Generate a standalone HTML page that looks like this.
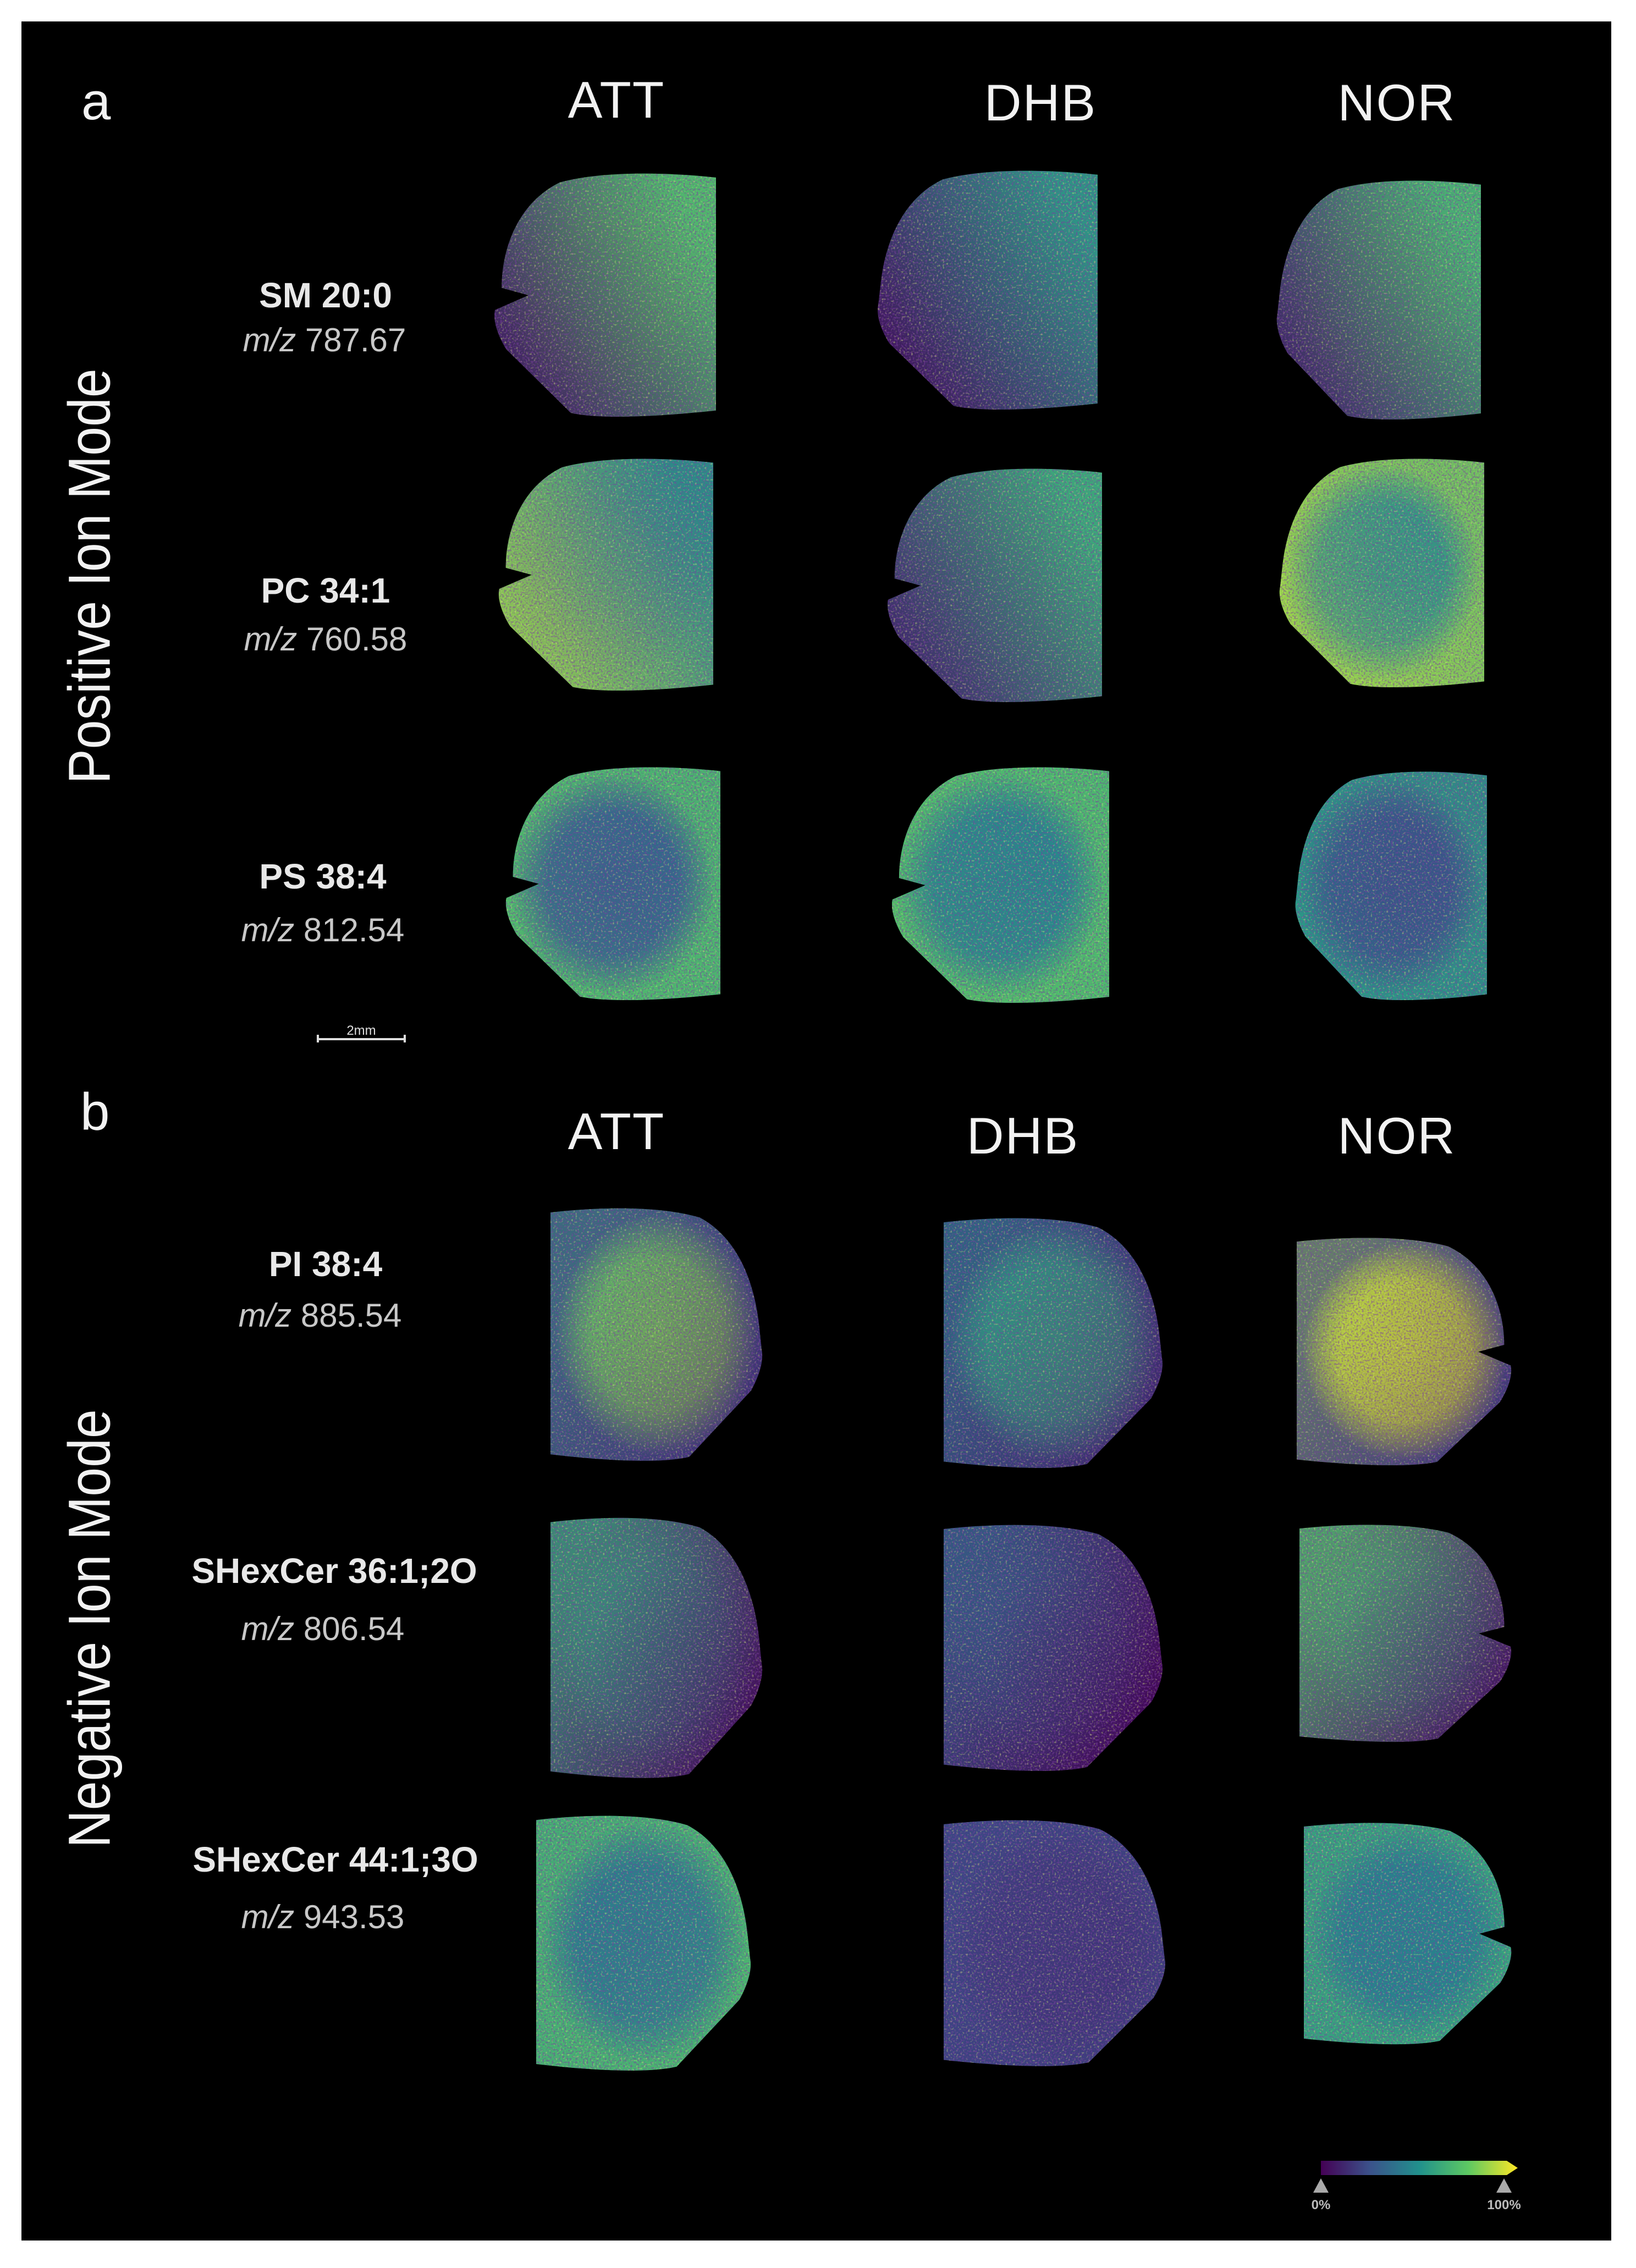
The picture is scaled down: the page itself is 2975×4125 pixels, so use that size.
<!DOCTYPE html>
<html><head><meta charset="utf-8">
<style>
html,body{margin:0;padding:0;background:#fff;}
#root{position:relative;width:2975px;height:4125px;background:#fff;overflow:hidden;font-family:"Liberation Sans",sans-serif;}
#panel{position:absolute;left:39px;top:39px;width:2891px;height:4036px;background:#000;}
.t{position:absolute;color:#f2f2f2;white-space:nowrap;}
.hdr{font-size:94px;transform:translateX(-50%);letter-spacing:2px;}
.lab{font-size:64px;font-weight:bold;transform:translateX(-50%);color:#e8e8e8;}
.mz{font-size:60px;transform:translateX(-50%);color:#c8c8c8;}
.vert{font-size:108px;transform-origin:center;color:#f2f2f2;}
</style></head>
<body>
<div id="root">
<div id="panel"></div>
<div class="t" style="left:148px;top:130px;font-size:96px;">a</div>
<div class="t" style="left:146px;top:1968px;font-size:96px;">b</div>

<div class="t hdr" style="left:1121px;top:128px;">ATT</div>
<div class="t hdr" style="left:1892px;top:133px;">DHB</div>
<div class="t hdr" style="left:2540px;top:133px;">NOR</div>
<div class="t hdr" style="left:1121px;top:2004px;">ATT</div>
<div class="t hdr" style="left:1860px;top:2012px;">DHB</div>
<div class="t hdr" style="left:2540px;top:2012px;">NOR</div>

<div class="t vert" style="left:162px;top:1048px;transform:translate(-50%,-50%) rotate(-90deg) scaleX(0.88);">Positive Ion Mode</div>
<div class="t vert" style="left:162px;top:2962px;transform:translate(-50%,-50%) rotate(-90deg) scaleX(0.88);">Negative Ion Mode</div>

<div class="t lab" style="left:592px;top:500px;">SM 20:0</div>
<div class="t mz" style="left:590px;top:584px;"><i>m/z</i> 787.67</div>
<div class="t lab" style="left:592px;top:1037px;">PC 34:1</div>
<div class="t mz" style="left:592px;top:1128px;"><i>m/z</i> 760.58</div>
<div class="t lab" style="left:587px;top:1557px;">PS 38:4</div>
<div class="t mz" style="left:587px;top:1657px;"><i>m/z</i> 812.54</div>
<div class="t lab" style="left:592px;top:2262px;">PI 38:4</div>
<div class="t mz" style="left:582px;top:2358px;"><i>m/z</i> 885.54</div>
<div class="t lab" style="left:608px;top:2820px;">SHexCer 36:1;2O</div>
<div class="t mz" style="left:587px;top:2928px;"><i>m/z</i> 806.54</div>
<div class="t lab" style="left:610px;top:3345px;">SHexCer 44:1;3O</div>
<div class="t mz" style="left:587px;top:3452px;"><i>m/z</i> 943.53</div>

<svg id="art" width="2975" height="4125" style="position:absolute;left:0;top:0;">
<defs>
<linearGradient id="cbar" x1="0" x2="1" y1="0" y2="0">
<stop offset="0" stop-color="#440154"/><stop offset="0.25" stop-color="#3b528b"/><stop offset="0.5" stop-color="#21918c"/><stop offset="0.75" stop-color="#5ec962"/><stop offset="1" stop-color="#fde725"/>
</linearGradient>
<filter id="speck" x="0" y="0" width="1" height="1">
<feTurbulence type="fractalNoise" baseFrequency="0.3" numOctaves="1" seed="3" result="n"/>
<feColorMatrix in="n" type="matrix" values="0 0 0 0 0.2  0 0 0 0 0.05  0 0 0 0 0.35  0 0 0 -5 2.6"/>
</filter>
<filter id="speck2" x="0" y="0" width="1" height="1">
<feTurbulence type="fractalNoise" baseFrequency="0.28" numOctaves="1" seed="11" result="n"/>
<feColorMatrix in="n" type="matrix" values="0 0 0 0 0.7  0 0 0 0 0.85  0 0 0 0 0.2  0 0 0 5 -2.9"/>
</filter>
</defs>
<g>
<line x1="578" y1="1890" x2="736" y2="1890" stroke="#ddd" stroke-width="4"/>
<line x1="578" y1="1882" x2="578" y2="1896" stroke="#ddd" stroke-width="4"/>
<line x1="736" y1="1882" x2="736" y2="1896" stroke="#ddd" stroke-width="4"/>
<text x="657" y="1882" fill="#ddd" font-size="24" text-anchor="middle" font-family="Liberation Sans, sans-serif">2mm</text>
</g>
<g>
<path d="M2402,3930 L2740,3930 L2760,3943 L2740,3956 L2402,3956 Z" fill="url(#cbar)"/>
<path d="M2402,3962 L2388,3988 L2416,3988 Z" fill="#aaa"/>
<path d="M2735,3962 L2721,3988 L2749,3988 Z" fill="#aaa"/>
<text x="2402" y="4018" fill="#bbb" font-size="24" font-weight="bold" text-anchor="middle" font-family="Liberation Sans, sans-serif">0%</text>
<text x="2735" y="4018" fill="#bbb" font-size="24" font-weight="bold" text-anchor="middle" font-family="Liberation Sans, sans-serif">100%</text>
</g>
<g id="brains"></g>
</svg>
</div>
<script>
var ions = ["SM 20:0","PC 34:1","PS 38:4","PI 38:4","SHexCer 36:1;2O","SHexCer 44:1;3O"];
var matrices = ["ATT","DHB","NOR"];
// viridis levels (0..1): low side (outer/bottom edge), high side (inner/top), radial centre, radial rim, radial strength
var lowSide     = [[0.02,0.0,0.05],[0.9,0.08,0.85],[0.6,0.6,0.5],[0.05,0.08,0.1],[0.02,0.0,0.03],[0.6,0.15,0.5]];
var highSide    = [[0.72,0.55,0.68],[0.42,0.62,0.55],[0.45,0.5,0.3],[0.6,0.5,0.85],[0.6,0.35,0.7],[0.45,0.2,0.45]];
var centerLevel = [[0.6,0.45,0.6],[0.42,0.5,0.45],[0.25,0.42,0.22],[0.82,0.62,0.95],[0.35,0.15,0.4],[0.38,0.15,0.42]];
var edgeLevel   = [[0.4,0.3,0.4],[0.6,0.4,0.85],[0.72,0.75,0.55],[0.2,0.15,0.2],[0.05,0.02,0.1],[0.7,0.25,0.62]];
var radialStrength = [[0.15,0.15,0.15],[0.3,0.1,0.6],[0.75,0.7,0.7],[0.6,0.5,0.6],[0.2,0.2,0.2],[0.7,0.3,0.7]];
var boxes = [
 [[896,314,1302,760],[1593,309,1996,747],[2319,327,2693,765]],
 [[904,833,1297,1258],[1611,851,2004,1279],[2324,833,2699,1252]],
 [[917,1394,1310,1821],[1619,1394,2017,1826],[2353,1402,2704,1821]],
 [[1001,2196,1389,2659],[1716,2214,2117,2672],[2358,2250,2751,2667]],
 [[1001,2759,1389,3236],[1716,2772,2117,3223],[2363,2772,2751,3170]],
 [[975,3301,1368,3768],[1716,3309,2122,3760],[2371,3314,2751,3720]]
];
var notch = [[1,0,0],[1,1,0],[1,1,0],[0,0,1],[0,0,1],[0,0,1]];
function viridis(t){
  var c=[[68,1,84],[59,82,139],[33,145,140],[94,201,98],[253,231,37]];
  t=Math.max(0,Math.min(1,t))*4;var i=Math.min(3,Math.floor(t)),f=t-i;
  var a=c[i],b=c[i+1];
  return 'rgb('+Math.round(a[0]+(b[0]-a[0])*f)+','+Math.round(a[1]+(b[1]-a[1])*f)+','+Math.round(a[2]+(b[2]-a[2])*f)+')';
}
function shapePath(x0,y0,x1,y1,mirror,hasNotch){
  var w=x1-x0,h=y1-y0;
  var P=function(u,v){ if(mirror)u=1-u; return (x0+u*w).toFixed(1)+','+(y0+v*h).toFixed(1); };
  var d='M'+P(0.3,0.04)+' C'+P(0.5,-0.01)+' '+P(0.8,0)+' '+P(1,0.02)+' L'+P(1,0.97)+' C'+P(0.8,0.99)+' '+P(0.5,1.01)+' '+P(0.35,0.98)+' L'+P(0.06,0.72)+' C'+P(0.02,0.66)+' '+P(0.0,0.6)+' '+P(0.01,0.56);
  if(hasNotch){ d+=' L'+P(0.16,0.5)+' L'+P(0.04,0.47); } else { d+=' L'+P(0.02,0.48); }
  d+=' C'+P(0.04,0.3)+' '+P(0.12,0.12)+' '+P(0.3,0.04)+' Z';
  return d;
}
var g=document.getElementById('brains');
var NS='http://www.w3.org/2000/svg';
var defs=document.querySelector('#art defs');
for(var r=0;r<6;r++){for(var m=0;m<3;m++){
  var b=boxes[r][m],mir=r>=3,id='b'+r+'_'+m;
  var grp=document.createElementNS(NS,'g');
  
  
  var cp=document.createElementNS(NS,'clipPath');cp.setAttribute('id','c'+id);
  var p=document.createElementNS(NS,'path');p.setAttribute('d',shapePath(b[0],b[1],b[2],b[3],mir,notch[r][m]));
  cp.appendChild(p);defs.appendChild(cp);
  var lg=document.createElementNS(NS,'linearGradient');lg.setAttribute('id','l'+id);
  lg.setAttribute('x1',mir?'1':'0');lg.setAttribute('y1','0.9');lg.setAttribute('x2',mir?'0':'1');lg.setAttribute('y2','0.25');
  lg.innerHTML='<stop offset="0.05" stop-color="'+viridis(lowSide[r][m])+'"/><stop offset="0.95" stop-color="'+viridis(highSide[r][m])+'"/>';
  defs.appendChild(lg);
  var s=radialStrength[r][m];
  var rg=document.createElementNS(NS,'radialGradient');rg.setAttribute('id','r'+id);
  rg.innerHTML='<stop offset="0" stop-color="'+viridis(centerLevel[r][m])+'" stop-opacity="'+s+'"/><stop offset="0.6" stop-color="'+viridis(centerLevel[r][m])+'" stop-opacity="'+(s*0.8)+'"/><stop offset="0.95" stop-color="'+viridis(edgeLevel[r][m])+'" stop-opacity="'+s+'"/>';
  defs.appendChild(rg);
  var inner=document.createElementNS(NS,'g');inner.setAttribute('clip-path','url(#c'+id+')');
  var w=b[2]-b[0],h=b[3]-b[1];
  var layers=[['l'+id,''],['r'+id,''],['','speck'],['','speck2']];
  for(var k=0;k<layers.length;k++){
    var re=document.createElementNS(NS,'rect');
    re.setAttribute('x',b[0]);re.setAttribute('y',b[1]);re.setAttribute('width',w);re.setAttribute('height',h);
    if(layers[k][0])re.setAttribute('fill','url(#'+layers[k][0]+')');
    else{re.setAttribute('filter','url(#'+layers[k][1]+')');re.setAttribute('opacity',k==2?'0.5':'0.45');}
    inner.appendChild(re);
  }
  grp.appendChild(inner);g.appendChild(grp);
}}
</script>
</body></html>
